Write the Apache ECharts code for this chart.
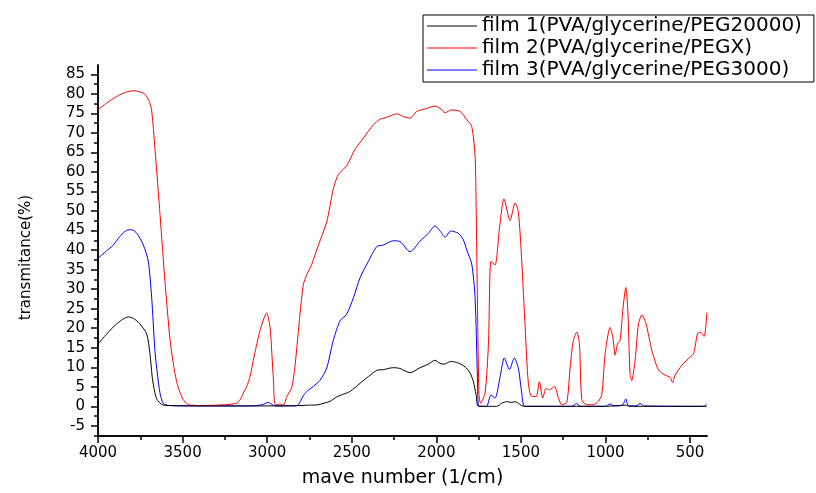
<!DOCTYPE html>
<html>
<head>
<meta charset="utf-8">
<script src="https://cdn.jsdelivr.net/npm/echarts@6/dist/echarts.min.js"></script>
<style>
  html, body { margin: 0; padding: 0; background: #fff; }
  #chart { width: 816px; height: 493px; }
</style>
</head>
<body>
<div id="chart"></div>
<script>
// wave numbers (1/cm) and transmittance (%)
var film1Wn = [4000, 3949, 3890, 3821, 3790, 3752, 3712, 3693, 3677, 3653, 3614, 3550, 3400, 3000, 2800, 2750, 2700, 2628, 2589, 2549, 2510, 2451, 2402, 2352, 2313, 2254, 2215, 2155, 2096, 2047, 2008, 1978, 1954, 1915, 1870, 1830, 1800, 1781, 1765, 1751, 1643, 1613, 1584, 1554, 1535, 1495, 1475, 1000, 880, 860, 401];
var film1T = [16, 18.5, 21.1, 22.9, 22.5, 21.1, 18.5, 13.5, 6.7, 1.9, 0.3, 0.2, 0.1, 0.1, 0.2, 0.3, 0.4, 1.3, 2.4, 3.1, 3.8, 5.9, 7.6, 9.2, 9.4, 9.9, 9.7, 8.6, 9.9, 10.8, 11.8, 11.0, 10.8, 11.5, 11.1, 10.1, 8.5, 6.3, 3, 0, 0, 0.8, 1.2, 1.0, 1.2, 0.2, 0, 0, 0.3, 0, 0];

var film2Wn = [4000, 3950, 3910, 3870, 3830, 3790, 3752, 3725, 3712, 3695, 3683, 3663, 3633, 3604, 3574, 3555, 3535, 3515, 3496, 3470, 3446, 3400, 3300, 3250, 3200, 3180, 3160, 3141, 3121, 3101, 3082, 3042, 3003, 2983, 2963, 2950, 2904, 2884, 2855, 2835, 2806, 2786, 2766, 2737, 2697, 2648, 2609, 2579, 2530, 2481, 2431, 2372, 2333, 2293, 2234, 2195, 2155, 2116, 2057, 2008, 1978, 1948, 1909, 1860, 1820, 1791, 1771, 1766, 1758, 1748, 1738, 1712, 1692, 1677, 1653, 1627, 1600, 1564, 1535, 1515, 1495, 1475, 1456, 1436, 1410, 1391, 1371, 1351, 1332, 1302, 1278, 1259, 1229, 1209, 1190, 1170, 1154, 1140, 1111, 1071, 1042, 1022, 1002, 973, 957, 943, 929, 914, 898, 880, 868, 855, 845, 825, 805, 784, 760, 726, 687, 648, 618, 604, 588, 549, 510, 480, 456, 441, 417, 401];
var film2T = [76, 77.6, 78.8, 79.8, 80.5, 80.8, 80.5, 80.0, 79.3, 77.8, 75.9, 65.8, 48.9, 32, 16.9, 11, 6.3, 3.5, 1.7, 0.5, 0.3, 0.2, 0.3, 0.4, 0.6, 0.8, 1.7, 3.4, 5.1, 7.6, 11.8, 19.4, 23.9, 20.2, 6.8, 0.4, 0.4, 2.5, 4.8, 10.5, 23.6, 31.2, 33.7, 36.3, 41.3, 47.2, 55.7, 59.4, 61.6, 65.8, 68.7, 72.1, 73.5, 74.0, 74.9, 74.2, 73.8, 75.5, 76.3, 76.9, 76.3, 75.2, 75.9, 75.5, 73.4, 71.7, 64.1, 55, 30, 3, 0.8, 3.4, 16, 37.1, 36.2, 45.5, 53.1, 47.6, 52.1, 49.7, 37.1, 20.2, 5.9, 2.5, 2.5, 6.3, 2.1, 4.6, 4.2, 5.1, 2.1, 0.4, 1.0, 10, 16.9, 19, 16, 1.7, 0.4, 0.4, 1.3, 3, 13.5, 20.2, 17.7, 13.1, 16, 16.9, 24.5, 30.4, 24.5, 8.4, 6.6, 11.8, 21.1, 23.4, 21.1, 14.3, 9.3, 8, 7.4, 6.1, 8, 10.5, 12.2, 13.5, 18.6, 19, 17.9, 24];

var film3Wn = [4000, 3950, 3910, 3870, 3830, 3800, 3770, 3732, 3703, 3683, 3663, 3648, 3634, 3614, 3580, 3500, 3100, 3030, 2993, 2970, 2950, 2830, 2816, 2786, 2766, 2727, 2687, 2648, 2609, 2569, 2530, 2490, 2451, 2402, 2352, 2313, 2254, 2215, 2155, 2096, 2047, 2008, 1978, 1948, 1915, 1870, 1840, 1820, 1791, 1771, 1757, 1748, 1702, 1690, 1677, 1653, 1623, 1598, 1568, 1539, 1515, 1495, 1475, 1200, 1170, 1150, 1000, 973, 950, 900, 880, 865, 820, 795, 770, 420, 401];
var film3T = [37.9, 39.8, 41.3, 43.5, 45.1, 45.2, 44.3, 41.3, 37.2, 28, 14, 8, 3.5, 0.7, 0.2, 0.1, 0.1, 0.4, 1.0, 0.4, 0.1, 0.1, 0.4, 2.7, 3.8, 5.1, 6.7, 9.8, 16.9, 21.9, 23.6, 27.8, 32.9, 37.1, 40.9, 41.3, 42.4, 42.2, 39.6, 42.3, 44.3, 46.2, 44.9, 43.3, 44.9, 44.3, 42.6, 40, 36.5, 27.8, 7.6, 0, 0, 1.5, 2.9, 2.1, 7.6, 12.4, 9.4, 12.4, 9.7, 3.4, 0, 0, 0.7, 0, 0, 0.6, 0.1, 0.3, 1.9, 0.2, 0.1, 0.7, 0.1, 0, 0.6];

var seriesNames = ['film 1(PVA/glycerine/PEG20000)', 'film 2(PVA/glycerine/PEGX)', 'film 3(PVA/glycerine/PEG3000)'];
var seriesColors = ['#000000', '#ff0000', '#0000ff'];

var xMajor = [4000, 3500, 3000, 2500, 2000, 1500, 1000, 500];
var xMinor = [3750, 3250, 2750, 2250, 1750, 1250, 750];
var yMajor = [-5, 0, 5, 10, 15, 20, 25, 30, 35, 40, 45, 50, 55, 60, 65, 70, 75, 80, 85];
var yMinor = [-7.5, -2.5, 2.5, 7.5, 12.5, 17.5, 22.5, 27.5, 32.5, 37.5, 42.5, 47.5, 52.5, 57.5, 62.5, 67.5, 72.5, 77.5, 82.5];

function pairs(xs, ys) {
  var out = [];
  for (var i = 0; i < xs.length; i++) out.push([xs[i], ys[i]]);
  return out;
}

function plain(v) { return String(v); }

var font = 'DejaVu Sans';
var chart = echarts.init(document.getElementById('chart'), null, { renderer: 'canvas' });

var xBase = { type: 'value', min: 400, max: 4000, inverse: true, splitLine: { show: false } };
var yBase = { type: 'value', min: -7.6, max: 87.4, splitLine: { show: false } };
var axisPen = { color: '#000', width: 1.5 };
var tickPen = { color: '#000', width: 1.5 };

var option = {
  backgroundColor: '#ffffff',
  animation: false,
  grid: { left: 98, right: 109, top: 65, bottom: 53, containLabel: false },
  legend: {
    orient: 'vertical',
    left: 423,
    top: 15,
    padding: [1, 12, 2, 4],
    borderColor: '#000',
    borderWidth: 1,
    icon: 'rect',
    itemWidth: 50,
    itemHeight: 1.2,
    itemGap: 2,
    textStyle: { fontFamily: font, fontSize: 20, color: '#000', lineHeight: 20 },
    data: seriesNames
  },
  xAxis: [
    Object.assign({}, xBase, {
      position: 'bottom',
      name: 'mave number (1/cm)',
      nameLocation: 'middle',
      nameGap: 33,
      nameTextStyle: { fontFamily: font, fontSize: 19, color: '#000' },
      axisLine: { show: true, onZero: false, lineStyle: axisPen },
      axisTick: { show: true, length: 7, customValues: xMajor, lineStyle: tickPen },
      axisLabel: { customValues: xMajor, formatter: plain, margin: 10, fontFamily: font, fontSize: 15, color: '#000' }
    }),
    // minor ticks
    Object.assign({}, xBase, {
      position: 'bottom',
      offset: 0,
      axisLine: { show: true, onZero: false, lineStyle: axisPen },
      axisTick: { show: true, length: 4, customValues: xMinor, lineStyle: tickPen },
      axisLabel: { show: false }
    })
  ],
  yAxis: [
    Object.assign({}, yBase, {
      position: 'left',
      name: 'transmitance(%)',
      nameLocation: 'middle',
      nameGap: 64,
      nameTextStyle: { fontFamily: font, fontSize: 15, color: '#000', padding: [0, 0, 0, -14] },
      axisLine: { show: true, onZero: false, lineStyle: axisPen },
      axisTick: { show: true, length: 7, customValues: yMajor, lineStyle: tickPen },
      axisLabel: { customValues: yMajor, formatter: plain, margin: 13, fontFamily: font, fontSize: 15, color: '#000' }
    }),
    // minor ticks
    Object.assign({}, yBase, {
      position: 'left',
      offset: 0,
      axisLine: { show: true, onZero: false, lineStyle: axisPen },
      axisTick: { show: true, length: 4, customValues: yMinor, lineStyle: tickPen },
      axisLabel: { show: false }
    })
  ],
  series: [
    { name: seriesNames[0], data: pairs(film1Wn, film1T) },
    { name: seriesNames[1], data: pairs(film2Wn, film2T) },
    { name: seriesNames[2], data: pairs(film3Wn, film3T) }
  ].map(function (s, i) {
    return Object.assign(s, {
      type: 'line',
      symbol: 'none',
      smooth: 0.25,
      color: seriesColors[i],
      lineStyle: { color: seriesColors[i], width: 1 },
      z: 3 - i
    });
  })
};

chart.setOption(option);
</script>
</body>
</html>
